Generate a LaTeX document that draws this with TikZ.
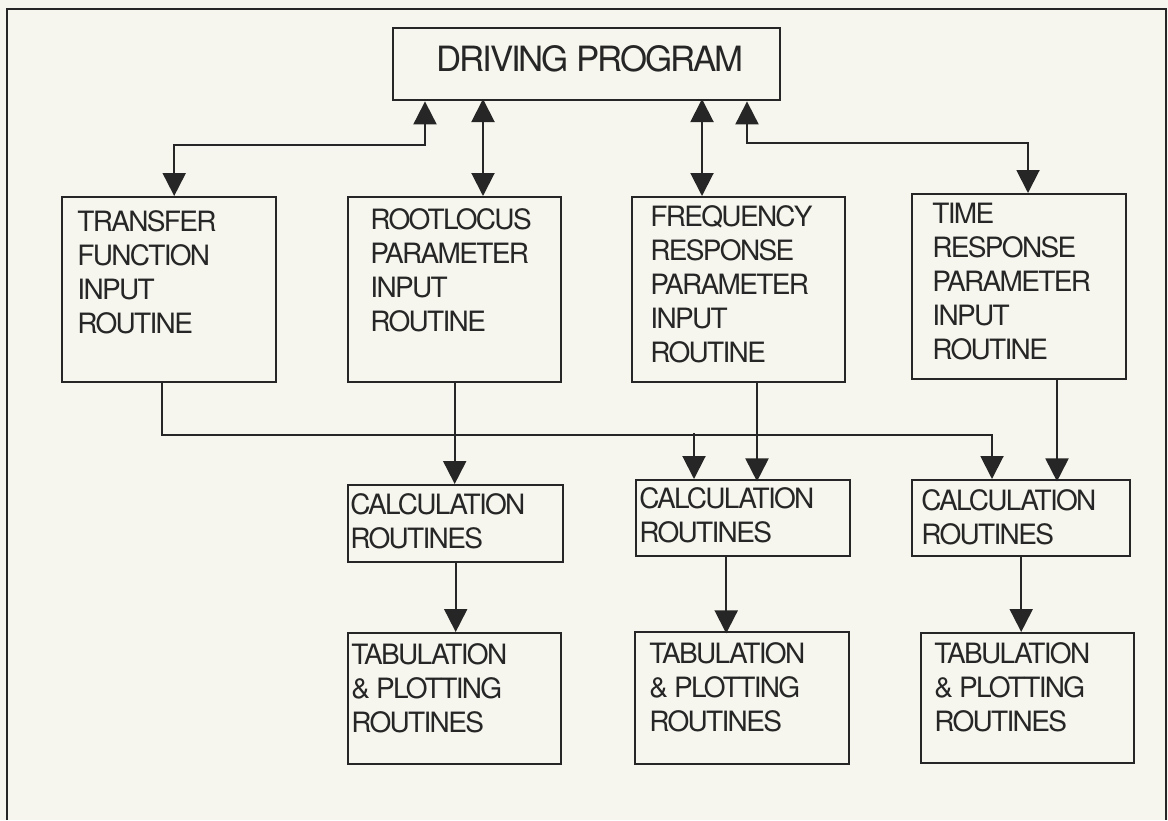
\documentclass[tikz,border=0pt]{standalone}
\usepackage{fontspec}
\newfontfamily\chartfont[LetterSpace=-6]{TeX Gyre Heros}
\usepackage{tikz}
\usetikzlibrary{positioning,arrows.meta,calc}
\definecolor{paper}{RGB}{246,246,238}
\definecolor{ink}{RGB}{38,38,38}
\tikzset{
  progbox/.style={draw=ink, line width=1.2pt, anchor=north west, inner sep=0pt},
  progtext/.style={anchor=north west, align=left, inner sep=0pt, text=ink,
    font=\chartfont\fontsize{14}{17}\selectfont},
  flowline/.style={draw=ink, line width=1pt},
  flowarrow/.style={flowline, -{Triangle[length=11.5pt,width=11.5pt]}},
  twoway/.style={flowline, {Triangle[length=11.5pt,width=11.5pt]}-{Triangle[length=11.5pt,width=11.5pt]}},
}

\begin{document}
\begin{tikzpicture}[x=0.5pt,y=-0.5pt]
  \fill[paper] (0,0) rectangle (1168,820);
  \useasboundingbox (0,0) rectangle (1168,820);
  % outer frame
  \draw[ink, line width=1pt] (7,820) -- (7,9) -- (1166,9) -- (1166,820);
  % driving program
  \node[progbox, minimum width=193.5pt, minimum height=36pt] (drive) at (392,27) {};
  \node[progtext, font=\chartfont\fontsize{17.4}{20}\selectfont] (drivetxt)
    at ([xshift=22pt,yshift=-9pt]drive.north west) {DRIVING PROGRAM};
  % input routines
  \node[progbox, minimum width=107pt, minimum height=92.5pt] (tf) at (61,196) {};
  \node[progtext] (tftxt) at ([xshift=8pt,yshift=-7pt]tf.north west)
    {TRANSFER\\FUNCTION\\INPUT\\ROUTINE};
  \node[progbox, minimum width=106.5pt, minimum height=92.5pt] (rl) at (347,196) {};
  \node[progtext] (rltxt) at ([xshift=11.5pt,yshift=-6pt]rl.north west)
    {ROOTLOCUS\\PARAMETER\\INPUT\\ROUTINE};
  \node[progbox, minimum width=106.5pt, minimum height=92.5pt] (fr) at (631,196) {};
  \node[progtext] (frtxt) at ([xshift=9.5pt,yshift=-4.5pt]fr.north west)
    {FREQUENCY\\RESPONSE\\PARAMETER\\INPUT\\ROUTINE};
  \node[progbox, minimum width=107pt, minimum height=92.5pt] (tr) at (911,193) {};
  \node[progtext] (trtxt) at ([xshift=10.5pt,yshift=-5pt]tr.north west)
    {TIME\\RESPONSE\\PARAMETER\\INPUT\\ROUTINE};
  % calculation routines
  \node[progbox, minimum width=107.5pt, minimum height=38.5pt] (calc1) at (347,484) {};
  \node[progtext] (calc1txt) at ([xshift=1.5pt,yshift=-4.5pt]calc1.north west)
    {CALCULATION\\ROUTINES};
  \node[progbox, minimum width=107pt, minimum height=38pt] (calc2) at (635,479) {};
  \node[progtext] (calc2txt) at ([xshift=2pt,yshift=-4pt]calc2.north west)
    {CALCULATION\\ROUTINES};
  \node[progbox, minimum width=109pt, minimum height=38pt] (calc3) at (911,479) {};
  \node[progtext] (calc3txt) at ([xshift=5pt,yshift=-5pt]calc3.north west)
    {CALCULATION\\ROUTINES};
  % tabulation & plotting
  \node[progbox, minimum width=106.5pt, minimum height=65.5pt] (tab1) at (347,632) {};
  \node[progtext] (tab1txt) at ([xshift=2pt,yshift=-5.5pt]tab1.north west)
    {TABULATION\\\& PLOTTING\\ROUTINES};
  \node[progbox, minimum width=107pt, minimum height=66pt] (tab2) at (634,631) {};
  \node[progtext] (tab2txt) at ([xshift=7.5pt,yshift=-5.5pt]tab2.north west)
    {TABULATION\\\& PLOTTING\\ROUTINES};
  \node[progbox, minimum width=106.5pt, minimum height=65pt] (tab3) at (920,632) {};
  \node[progtext] (tab3txt) at ([xshift=7pt,yshift=-5pt]tab3.north west)
    {TABULATION\\\& PLOTTING\\ROUTINES};
  % driving program <-> input routines
  \draw[twoway] ([xshift=16.5pt]drive.south west) -- ++(0,44) -| ([xshift=2.5pt]tf.north);
  \draw[twoway] ([xshift=68pt]rl.north west) -- ++(0,-97);
  \draw[twoway] ([xshift=35.5pt]fr.north west) -- ++(0,-97);
  \draw[twoway] ([xshift=177.5pt]drive.south west) -- ++(0,42) -| ([xshift=58.5pt]tr.north west);
  % transfer function feeds every calculation
  \draw[flowarrow] ([xshift=-3.5pt]tf.south) -- ++(0,52) -| ([xshift=40.5pt]calc3.north west);
  \draw[flowarrow] ([xshift=29.5pt,yshift=23pt]calc2.north west) -- ([xshift=29.5pt]calc2.north west);
  \draw[flowarrow] (rl.south) -- (rl.south |- calc1.north);
  \draw[flowarrow] ([xshift=63pt]fr.south west) -- ++(0,98);
  \draw[flowarrow] ([xshift=73pt]tr.south west) -- ++(0,101);
  % calculation -> tabulation
  \draw[flowarrow] (calc1.south) -- (calc1.south |- tab1.north);
  \draw[flowarrow] ([xshift=-8.5pt]calc2.south) -- ++(0,76);
  \draw[flowarrow] (calc3.south) -- (calc3.south |- tab3.north);
\end{tikzpicture}
\end{document}
